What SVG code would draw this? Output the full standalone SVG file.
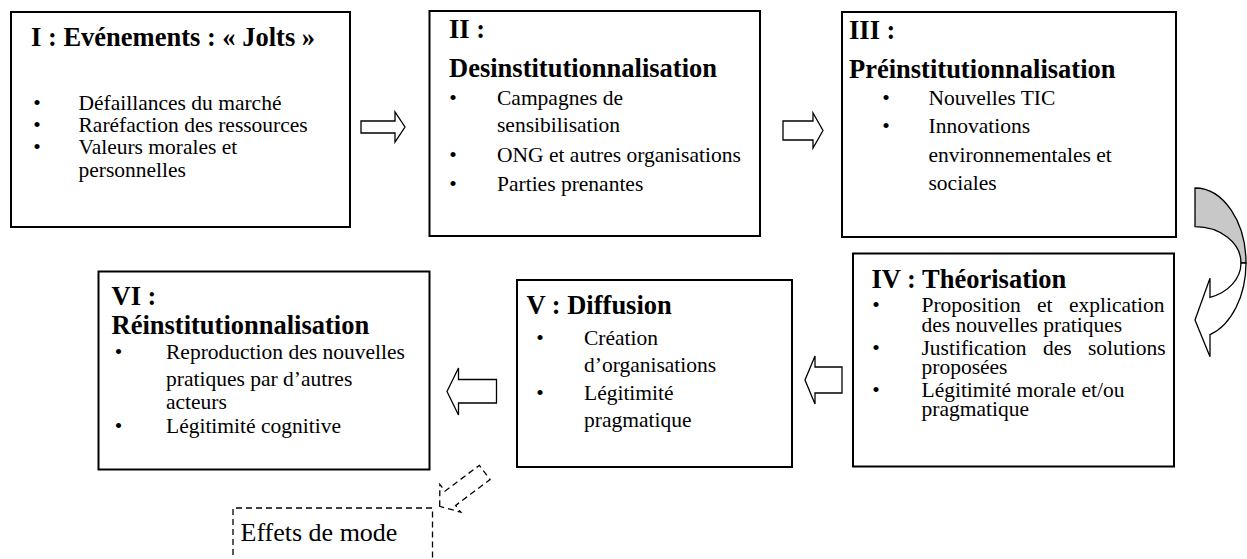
<svg xmlns="http://www.w3.org/2000/svg" width="1247" height="559" viewBox="0 0 1247 559">
<style>
.box{fill:#fff;stroke:#000;stroke-width:2}
.t{font-family:"Liberation Serif","Times New Roman",serif;font-weight:bold;font-size:26.5px;fill:#000}
.b{font-family:"Liberation Serif","Times New Roman",serif;font-size:21.5px;fill:#000}
.bl{font-family:"Liberation Serif","Times New Roman",serif;font-size:21.5px;fill:#000;text-anchor:middle}
.arr{fill:#fff;stroke:#000;stroke-width:1.3;stroke-linejoin:miter}
.dash{fill:none;stroke:#000;stroke-width:1.3;stroke-dasharray:6 4}
</style>
<rect width="1247" height="559" fill="#fff"/>

<g id="connectors">
  <path class="arr" d="M361,121 H395 V112 L405,127 L395,142 V133 H361 Z"/>
  <path class="arr" d="M783,121 H813 V113 L823,130.5 L813,148 V140 H783 Z"/>
  <path class="arr" d="M842,367 H815 V356 L805,380 L815,404 V393 H842 Z"/>
  <path class="arr" d="M496.5,379.5 H458.5 V368 L447,391.5 L458.5,415 V403 H496.5 Z"/>
  <path d="M1195,188 A51 75 0 0 1 1246,263 L1241,263 A46 36.3 0 0 0 1195,226.7 Z" fill="#c8c8c8" stroke="#000" stroke-width="1.3"/>
  <path class="arr" d="M1246,263 A51 75 0 0 1 1210,334.7 L1210,356.7 L1195,320 L1210,278.3 L1210,297.3 A46 36.3 0 0 0 1241,263 Z"/>
  <path class="dash" transform="translate(439.7,506.3) rotate(-37)" d="M0,0 L13.3,-17.4 L13.3,-8.9 L56.3,-8.9 L56.3,8.9 L13.3,8.9 L13.3,17.4 Z"/>
</g>

<g id="node1">
  <rect class="box" x="11" y="12" width="339" height="215"/>
  <text class="t" x="31" y="46">I : Evénements : « Jolts »</text>
  <text class="bl" x="37" y="110">•</text><text class="b" x="78.5" y="110">Défaillances du marché</text>
  <text class="bl" x="37" y="132">•</text><text class="b" x="78.5" y="132">Raréfaction des ressources</text>
  <text class="bl" x="37" y="154">•</text><text class="b" x="78.5" y="154">Valeurs morales et</text>
  <text class="b" x="78.5" y="177">personnelles</text>
</g>

<g id="node2">
  <rect class="box" x="429.5" y="11" width="330.5" height="225"/>
  <text class="t" x="449" y="38">II :</text>
  <text class="t" x="449" y="77">Desinstitutionnalisation</text>
  <text class="bl" x="453" y="105">•</text><text class="b" x="497" y="105">Campagnes de</text>
  <text class="b" x="497" y="132">sensibilisation</text>
  <text class="bl" x="453" y="162">•</text><text class="b" x="497" y="162">ONG et autres organisations</text>
  <text class="bl" x="453" y="191">•</text><text class="b" x="497" y="191">Parties prenantes</text>
</g>

<g id="node3">
  <rect class="box" x="842" y="12" width="334" height="225"/>
  <text class="t" x="849" y="39">III :</text>
  <text class="t" x="849" y="77.5">Préinstitutionnalisation</text>
  <text class="bl" x="886" y="104.5">•</text><text class="b" x="928.5" y="104.5">Nouvelles TIC</text>
  <text class="bl" x="886" y="133">•</text><text class="b" x="928.5" y="133">Innovations</text>
  <text class="b" x="928.5" y="161.5">environnementales et</text>
  <text class="b" x="928.5" y="189.5">sociales</text>
</g>

<g id="node4">
  <rect class="box" x="853" y="253.5" width="321" height="213"/>
  <text class="t" x="871.5" y="288">IV : Théorisation</text>
  <text class="bl" x="876" y="312">•</text><text class="b" x="921.5" y="312" word-spacing="11">Proposition et explication</text>
  <text class="b" x="921.5" y="332">des nouvelles pratiques</text>
  <text class="bl" x="876" y="355">•</text><text class="b" x="921.5" y="355" word-spacing="11">Justification des solutions</text>
  <text class="b" x="921.5" y="374">proposées</text>
  <text class="bl" x="876" y="397">•</text><text class="b" x="921.5" y="397">Légitimité morale et/ou</text>
  <text class="b" x="921.5" y="416">pragmatique</text>
</g>

<g id="node5">
  <rect class="box" x="517" y="280" width="275" height="187"/>
  <text class="t" x="526.5" y="314">V : Diffusion</text>
  <text class="bl" x="540" y="345">•</text><text class="b" x="584" y="345">Création</text>
  <text class="b" x="584" y="372">d’organisations</text>
  <text class="bl" x="540" y="400">•</text><text class="b" x="584" y="400">Légitimité</text>
  <text class="b" x="584" y="427">pragmatique</text>
</g>

<g id="node6">
  <rect class="box" x="98.5" y="271.5" width="331" height="198"/>
  <text class="t" x="111.5" y="305">VI :</text>
  <text class="t" x="111.5" y="334">Réinstitutionnalisation</text>
  <text class="bl" x="118.5" y="359">•</text><text class="b" x="166" y="359">Reproduction des nouvelles</text>
  <text class="b" x="166" y="386">pratiques par d’autres</text>
  <text class="b" x="166" y="409">acteurs</text>
  <text class="bl" x="118.5" y="433">•</text><text class="b" x="166" y="433">Légitimité cognitive</text>
</g>

<g id="node7">
  <path class="dash" d="M233,565 V508 H432.5 V565"/>
  <text x="240.5" y="541" font-family="'Liberation Serif','Times New Roman',serif" font-size="26px">Effets de mode</text>
</g>
</svg>
